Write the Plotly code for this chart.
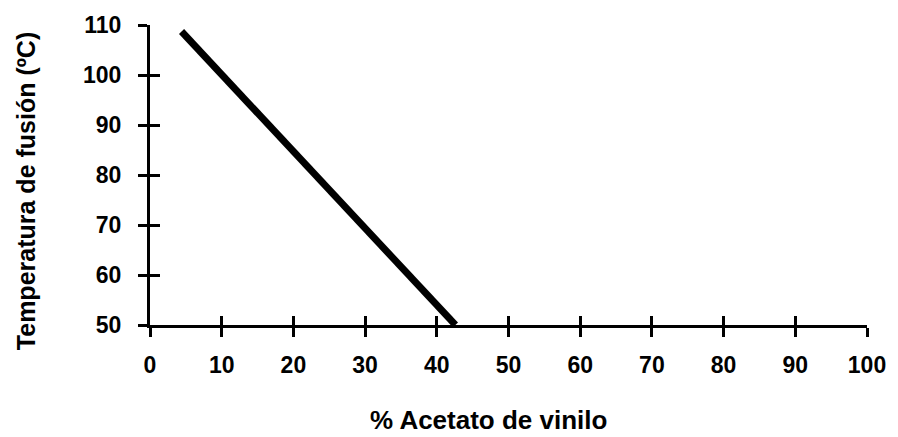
import plotly.graph_objects as go

# Melting temperature vs. vinyl acetate content (EVA copolymer)
acetato_pct = [4.4, 42.6]
temp_fusion = [108.7, 50.0]

x_ticks = [0, 10, 20, 30, 40, 50, 60, 70, 80, 90, 100]
y_ticks = [50, 60, 70, 80, 90, 100, 110]
x_labels = [f"<b>{v}</b>" for v in x_ticks]
y_labels = [f"<b>{v}</b>" for v in y_ticks]

FONT = "Arial, 'Liberation Sans', Helvetica, sans-serif"

fig = go.Figure()
fig.add_trace(go.Scatter(
    x=acetato_pct, y=temp_fusion, mode="lines",
    line=dict(color="black", width=7),
    showlegend=False, hoverinfo="skip",
))

axis_common = dict(
    showgrid=False, zeroline=False,
    ticks="outside", ticklen=9, tickwidth=3, tickcolor="black",
    showline=True, linewidth=3, linecolor="black",
    tickfont=dict(family=FONT, size=23, color="black"),
)

fig.update_layout(
    width=898, height=437,
    margin=dict(l=150, r=26, t=22, b=112),
    paper_bgcolor="white", plot_bgcolor="white",
    xaxis=dict(range=[0, 100], tickvals=x_ticks, ticktext=x_labels,
               ticklabelstandoff=8, **axis_common),
    yaxis=dict(range=[50, 110], tickvals=y_ticks, ticktext=y_labels,
               ticklabelstandoff=12, **axis_common),
    # mirror axes carrying inward ticks so each tick crosses the axis line
    xaxis2=dict(range=[0, 100], tickvals=x_ticks, overlaying="x", anchor="y",
                side="bottom", ticks="inside", ticklen=9, tickwidth=3,
                tickcolor="black", showticklabels=False, showgrid=False,
                zeroline=False, showline=False),
    yaxis2=dict(range=[50, 110], tickvals=y_ticks, overlaying="y", anchor="x",
                side="left", ticks="inside", ticklen=10, tickwidth=3,
                tickcolor="black", showticklabels=False, showgrid=False,
                zeroline=False, showline=False),
    annotations=[
        dict(text="<b>% Acetato de vinilo</b>", xref="paper", yref="paper",
             x=0.472, y=-0.318, xanchor="center", yanchor="middle",
             showarrow=False, font=dict(family=FONT, size=26, color="black")),
        dict(text="<b>Temperatura de fusión (ºC)</b>", xref="paper", yref="paper",
             x=-0.172, y=0.445, xanchor="center", yanchor="middle", textangle=-90,
             showarrow=False, font=dict(family=FONT, size=25, color="black")),
    ],
)

# invisible trace to activate the mirror axes
fig.add_trace(go.Scatter(x=[None], y=[None], xaxis="x2", yaxis="y2",
                         showlegend=False, hoverinfo="skip"))

fig.write_html("out.html")
